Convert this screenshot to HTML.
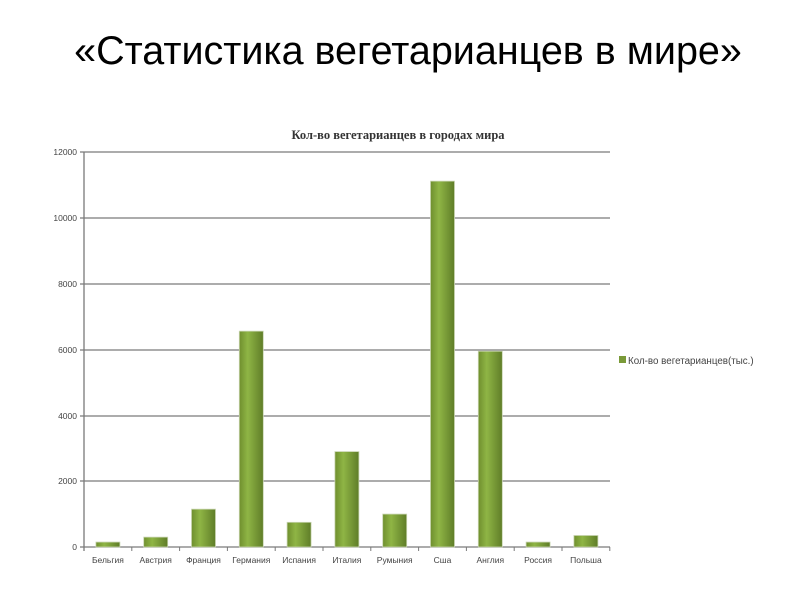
<!DOCTYPE html>
<html><head><meta charset="utf-8"><style>
body{margin:0;background:#fff;width:800px;height:600px;overflow:hidden}
</style></head><body>
<svg width="800" height="600" xmlns="http://www.w3.org/2000/svg">
<defs>
<linearGradient id="g" x1="0" x2="1" y1="0" y2="0">
<stop offset="0" stop-color="#6f8f2e"/><stop offset="0.35" stop-color="#8fb545"/><stop offset="1" stop-color="#5f7d28"/>
</linearGradient>
</defs>
<text x="408" y="64" font-family="Liberation Sans, sans-serif" font-size="39.5" text-anchor="middle" fill="#000">«Статистика вегетарианцев в мире»</text>
<text x="398" y="139" font-family="Liberation Serif, serif" font-weight="bold" font-size="12.5" text-anchor="middle" fill="#333">Кол-во вегетарианцев в городах мира</text>
<g stroke="#7a7a7a" stroke-width="1.3">
<line x1="80" y1="152" x2="610" y2="152"/>
<line x1="80" y1="218" x2="610" y2="218"/>
<line x1="80" y1="284" x2="610" y2="284"/>
<line x1="80" y1="350" x2="610" y2="350"/>
<line x1="80" y1="416" x2="610" y2="416"/>
<line x1="80" y1="481" x2="610" y2="481"/>
<line x1="80" y1="547" x2="610" y2="547"/>
<line x1="84" y1="152" x2="84" y2="551"/>
</g>
<g font-family="Liberation Sans, sans-serif" font-size="8.5" fill="#444" text-anchor="end">
<text x="77" y="155">12000</text><text x="77" y="221">10000</text><text x="77" y="287">8000</text>
<text x="77" y="353">6000</text><text x="77" y="419">4000</text><text x="77" y="484">2000</text><text x="77" y="550">0</text>
</g>
<g id="bars"></g>
<g font-family="Liberation Sans, sans-serif" font-size="8.5" fill="#444" text-anchor="middle" id="labels"></g>
<rect x="619" y="356" width="7" height="7" fill="#7a9a38"/>
<text x="628" y="364" font-family="Liberation Sans, sans-serif" font-size="9.8" fill="#444">Кол-во вегетарианцев(тыс.)</text>
<script>
var names=["Бельгия","Австрия","Франция","Германия","Испания","Италия","Румыния","Сша","Англия","Россия","Польша"];
var vals=[150,300,1150,6560,750,2900,1000,11120,5950,150,350];
var b=document.getElementById("bars"),l=document.getElementById("labels"),ns="http://www.w3.org/2000/svg";
for(var i=0;i<11;i++){var cx=84+47.8*(i+0.5),h=vals[i]*0.0329;
var r=document.createElementNS(ns,"rect");r.setAttribute("x",cx-12);r.setAttribute("y",547-h);r.setAttribute("width",24);r.setAttribute("height",h);r.setAttribute("fill","url(#g)");r.setAttribute("stroke","#c8d4b0");r.setAttribute("stroke-width","0.8");b.appendChild(r);
var t=document.createElementNS(ns,"line");var tx=84+47.8*(i+1);t.setAttribute("x1",tx);t.setAttribute("x2",tx);t.setAttribute("y1",547);t.setAttribute("y2",551);t.setAttribute("stroke","#7a7a7a");b.appendChild(t);
var tt=document.createElementNS(ns,"text");tt.setAttribute("x",cx);tt.setAttribute("y",563);tt.textContent=names[i];l.appendChild(tt);}
</script>
</svg>
</body></html>
